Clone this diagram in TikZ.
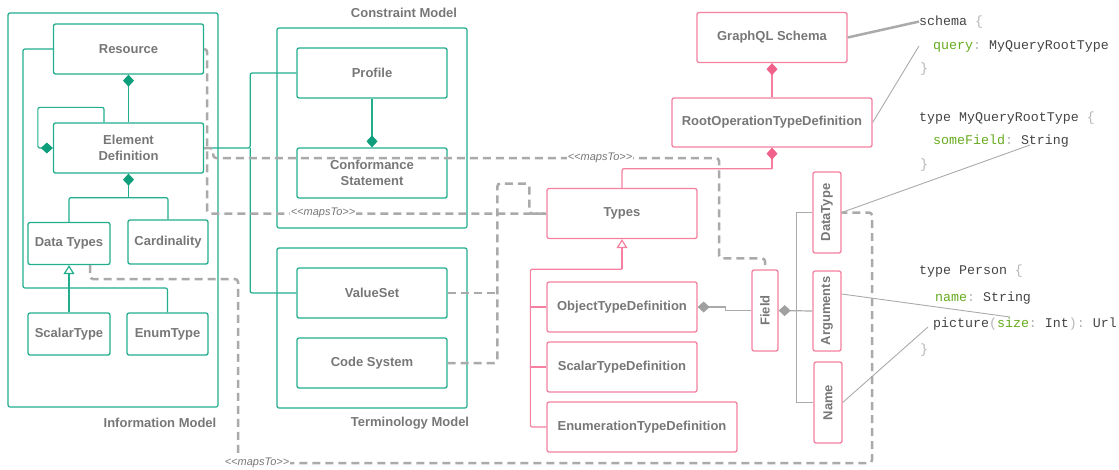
\documentclass[tikz,border=0pt]{standalone}
\usepackage{fontspec}
\setmainfont{Liberation Sans}
\setmonofont{Liberation Mono}
\usepackage{graphicx}
\usetikzlibrary{arrows.meta, positioning, calc}
\definecolor{mteal}{HTML}{22AE8D}
\definecolor{mtealdark}{HTML}{0E9E7C}
\definecolor{mpink}{HTML}{F5809F}
\definecolor{mpinkdark}{HTML}{F06289}
\definecolor{mgray}{HTML}{AAAAAA}
\definecolor{mgraydark}{HTML}{A0A0A0}
\definecolor{mtext}{HTML}{777777}
\definecolor{mcode}{HTML}{444444}
\definecolor{mkey}{HTML}{66AA1E}
\definecolor{mpunct}{HTML}{B5B5B5}
\newcommand\mboxfont{\fontsize{13}{16}\selectfont\bfseries}
\newcommand\mmapsfont{\fontsize{11}{13}\selectfont\itshape}
\newcommand\mcodefont{\fontsize{13.3}{16}\selectfont\ttfamily}
\newcommand\mapstolbl{<\kern0pt<mapsTo>\kern0pt>}
\tikzset{
  tbox/.style={draw=mteal, line width=1.3pt, rounded corners=2pt, text=mtext,
               font=\mboxfont, align=center, inner sep=2pt},
  pbox/.style={draw=mpink, line width=1.3pt, rounded corners=2pt, text=mtext,
               font=\mboxfont, align=center, inner sep=2pt},
  wide/.style={minimum width=150, minimum height=50},
  grp/.style={draw=mteal, line width=1.2pt, rounded corners=2pt},
  grplbl/.style={text=mtext, font=\mboxfont},
  tline/.style={draw=mteal, line width=1.2pt, rounded corners=2pt},
  pline/.style={draw=mpink, line width=1.2pt, rounded corners=2pt},
  gline/.style={draw=mgray, line width=1.2pt},
  dline/.style={draw=mgray, line width=2.5pt, dash pattern=on 8pt off 5pt, rounded corners=3pt},
  maps/.style={fill=white, text=mtext, font=\mmapsfont, inner sep=1pt},
  code/.style={font=\mcodefont, text=mcode, anchor=base west, inner sep=0pt},
  comp/.style={-{Diamond[length=12pt, width=11pt, color=#1]}},
  gen/.style={-{Triangle[length=9pt, width=11pt, fill=white]}},
}
\begin{document}
\begin{tikzpicture}[x=1pt, y=-1pt]
  \useasboundingbox (0,0) rectangle (1119,469);

  %% -- Information Model --
  \node[grp, minimum width=210, minimum height=394] (infobox) at (113,210) {};
  \node[grplbl] (infolbl) at (160,423) {Information Model};
  \node[tbox, wide] (resource) at (128.5,49) {Resource};
  \node[tbox, wide] (eldef) at (128.5,148) {Element\\Definition};
  \node[tbox, minimum width=82, minimum height=42] (datatypes) at (69,243.5) {Data Types};
  \node[tbox, minimum width=80, minimum height=44] (cardinality) at (168,242) {Cardinality};
  \node[tbox, minimum width=82, minimum height=42] (scalartype) at (69,334) {ScalarType};
  \node[tbox, minimum width=81, minimum height=42] (enumtype) at (167.5,334) {EnumType};

  %% -- Constraint Model --
  \node[grp, minimum width=190, minimum height=200] (consbox) at (372,128) {};
  \node[grplbl] (conslbl) at (404,13) {Constraint Model};
  \node[tbox, wide] (profile) at (372,73) {Profile};
  \node[tbox, wide] (conformance) at (372,173) {Conformance\\Statement};

  %% -- Terminology Model --
  \node[grp, minimum width=190, minimum height=160] (termbox) at (372,328) {};
  \node[grplbl] (termlbl) at (410,423) {Terminology Model};
  \node[tbox, wide] (valueset) at (372,293) {ValueSet};
  \node[tbox, wide] (codesystem) at (372,363) {Code System};

  %% -- GraphQL --
  \node[pbox, wide] (graphql) at (772,37.5) {GraphQL Schema};
  \node[pbox, minimum width=200, minimum height=49] (rootop) at (772,122.5) {RootOperationTypeDefinition};
  \node[pbox, wide] (types) at (622,213.5) {Types};
  \node[pbox, wide] (objtd) at (622,307) {ObjectTypeDefinition};
  \node[pbox, wide] (scalartd) at (622,367) {ScalarTypeDefinition};
  \node[pbox, minimum width=190, minimum height=50] (enumtd) at (642,427) {EnumerationTypeDefinition};
  \node[pbox, minimum width=26, minimum height=81] (field) at (765,310.5) {\rotatebox{90}{Field}};
  \node[pbox, minimum width=28, minimum height=81] (datatype) at (827,212.5) {\rotatebox{90}{DataType}};
  \node[pbox, minimum width=28, minimum height=80] (arguments) at (827,311) {\rotatebox{90}{Arguments}};
  \node[pbox, minimum width=28, minimum height=81] (name) at (828,402.5) {\rotatebox{90}{Name}};

  %% -- code sample --
  \node[code] (cschema) at (919,25) {schema \textcolor{mpunct}{\{}};
  \node[code] (cquery) at (933,49) {\textcolor{mkey}{query}\textcolor{mpunct}{:} MyQueryRootType};
  \node[code] (cclosea) at (920,72) {\textcolor{mpunct}{\}}};
  \node[code] (ctype) at (919,121) {type MyQueryRootType \textcolor{mpunct}{\{}};
  \node[code] (csome) at (933,144) {\textcolor{mkey}{someField}\textcolor{mpunct}{:} String};
  \node[code] (ccloseb) at (920,168) {\textcolor{mpunct}{\}}};
  \node[code] (cperson) at (919,274) {type Person \textcolor{mpunct}{\{}};
  \node[code] (cname) at (935,301) {\textcolor{mkey}{name}\textcolor{mpunct}{:} String};
  \node[code] (cpicture) at (933,327) {picture\textcolor{mpunct}{(}\textcolor{mkey}{size}\textcolor{mpunct}{:} Int\textcolor{mpunct}{):} Url};
  \node[code] (cclosec) at (920,353) {\textcolor{mpunct}{\}}};

  %% teal connectors
  \draw[tline, comp=mtealdark] (eldef.north) -- (resource.south);
  \draw[tline, comp=mtealdark] ([xshift=-24.5]eldef.north) -- ++(0,-15) -| ([xshift=-15]eldef.west) -- (eldef.west);
  \coordinate (edjoin) at ($(eldef.south)+(0,24)$);
  \draw[tline, comp=mtealdark] (edjoin) -- (eldef.south);
  \draw[tline] (datatypes.north) |- (edjoin) -| (cardinality.north);
  \draw[tline, gen] (scalartype.north) -- (datatypes.south);
  \draw[tline] (resource.west) -| (23,288) -| (enumtype.north);
  \coordinate (cmjoin) at ($(eldef.east)+(46,0)$);
  \draw[tline] (eldef.east) -- (cmjoin) |- (profile.west);
  \draw[tline] (cmjoin) |- (valueset.west);
  \draw[tline, comp=mtealdark] (profile.south) -- (conformance.north);

  %% pink connectors
  \draw[pline, comp=mpinkdark] (rootop.north) -- (graphql.south);
  \coordinate (rtjoin) at ($(rootop.south)+(0,21)$);
  \draw[pline, comp=mpinkdark] (rtjoin) -- (rootop.south);
  \draw[pline] (types.north) |- (rtjoin);
  \coordinate (tjoin) at ($(types.south)+(0,30)$);
  \draw[pline, gen] (tjoin) -- (types.south);
  \draw[pline] (tjoin) -| ($(enumtd.west)+(-16,0)$) -- (enumtd.west);
  \draw[pline] (objtd.west) -- ++(-16,0);
  \draw[pline] (scalartd.west) -- ++(-16,0);

  %% gray connectors
  \draw[gline, comp=mgraydark] (field.west) -- ++(-26,0) |- (objtd.east);
  \draw[gline, comp=mgraydark] (arguments.west) -- (field.east);
  \coordinate (fjoin) at ($(field.east)+(18,0)$);
  \draw[gline] (datatype.west) -| (fjoin) |- (name.west);

  %% mapsTo
  \draw[dline] (resource.east) -- ++(3,0) |- (types.west);
  \coordinate (tloop) at ($(types.west)+(-49,-30)$);
  \draw[dline] (codesystem.east) -| (tloop) -| ($(types.west)+(-17,0)$) -- (types.west);
  \draw[dline] (valueset.east) -- (valueset.east -| tloop);
  \draw[dline] (eldef.east) -| ($(eldef.east)+(9,10)$) -| ($(field.north)+(-46,-11)$) -| (field.north);
  \draw[dline] ([xshift=21]datatypes.south) |- (238,279) |- (872,463) |- (datatype.east);
  \node[maps] (mapsa) at (323,213) {\mapstolbl};
  \node[maps] (mapsb) at (600,158) {\mapstolbl};
  \node[maps] (mapsc) at (257,463) {\mapstolbl};

  %% code links
  \draw[gline, line width=2.5pt] (graphql.east) -- (cschema.west);
  \draw[gline, line width=0.9pt] (rootop.east) -- ([xshift=-14]cquery.west);
  \draw[gline, line width=0.9pt] (datatype.east) -- ($(csome.base west)+(97,1)$);
  \draw[gline, line width=0.9pt] ([yshift=17]arguments.east) -- ($(cpicture.base west)+(77,-10)$);
  \draw[gline, line width=0.9pt] (name.east) -- ($(cpicture.base west)+(-5,0)$);
\end{tikzpicture}
\end{document}
